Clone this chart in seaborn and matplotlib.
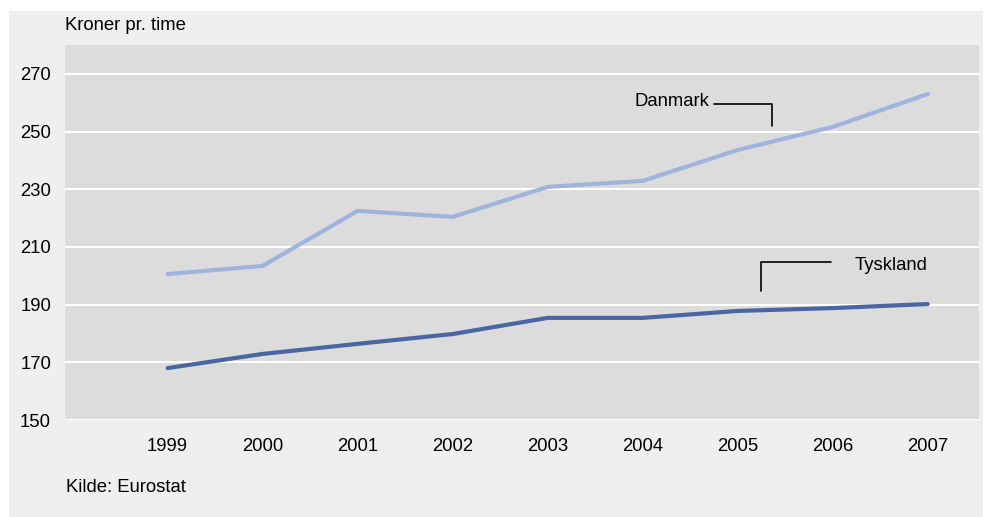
import pandas as pd
import seaborn as sns
import numpy as np
import matplotlib.pyplot as plt
from matplotlib.patches import Rectangle

years = [1999, 2000, 2001, 2002, 2003, 2004, 2005, 2006, 2007]
danmark = [200.6, 203.4, 222.5, 220.4, 230.8, 232.9, 243.6, 251.6, 263.0]
tyskland = [168.0, 172.9, 176.4, 179.8, 185.4, 185.4, 187.8, 188.8, 190.2]
yticks = [150, 170, 190, 210, 230, 250, 270]

df = pd.DataFrame({
    'year': years * 2,
    'kr': danmark + tyskland,
    'land': ['Danmark'] * len(years) + ['Tyskland'] * len(years),
})

sns.set_style('white')
plt.rcParams['font.family'] = ['Liberation Sans', 'DejaVu Sans']
plt.rcParams['text.color'] = 'black'
fs = 13.3

fig = plt.figure(figsize=(9.85, 5.17), dpi=100)
fig.patch.set_facecolor('white')
# outer light grey panel
fig.add_artist(Rectangle((9 / 985, 0), 974 / 985, 1 - 11 / 517,
                         transform=fig.transFigure, facecolor='#efefef',
                         edgecolor='none', zorder=-10))

ax = fig.add_axes([65 / 985, 97 / 517, 914 / 985, 375 / 517])
ax.set_facecolor('#dcdcdc')

sns.lineplot(data=df, x='year', y='kr', hue='land', ax=ax, linewidth=3.0,
             palette={'Danmark': '#9fb4dc', 'Tyskland': '#4a66a2'}, legend=False)

ax.set_xlim(1997.92, 2007.54)
ax.set_ylim(150, 280)
ax.set_yticks(yticks)
ax.set_xticks(years)
ax.yaxis.grid(True, color='white', linewidth=1.5)
ax.set_axisbelow(True)
for s in ax.spines.values():
    s.set_visible(False)
ax.tick_params(axis='both', length=0, labelsize=fs, colors='black')
ax.tick_params(axis='y', pad=10)
ax.tick_params(axis='x', pad=13)
ax.set_xlabel('')
ax.set_ylabel('')

# labels with leader lines
ax.plot([2004.75, 2005.36, 2005.36], [259.6, 259.6, 251.8], color='black', linewidth=1.2)
ax.text(2004.70, 260.3, 'Danmark', ha='right', va='center', fontsize=fs)
ax.plot([2005.98, 2005.25, 2005.25], [204.8, 204.8, 194.7], color='black', linewidth=1.2)
ax.text(2006.23, 203.6, 'Tyskland', ha='left', va='center', fontsize=fs)

fig.text(65 / 985, 1 - 25 / 517, 'Kroner pr. time', ha='left', va='center', fontsize=fs)
fig.text(66 / 985, 1 - 487 / 517, 'Kilde: Eurostat', ha='left', va='center', fontsize=fs)

fig.savefig('out.png', dpi=100)
